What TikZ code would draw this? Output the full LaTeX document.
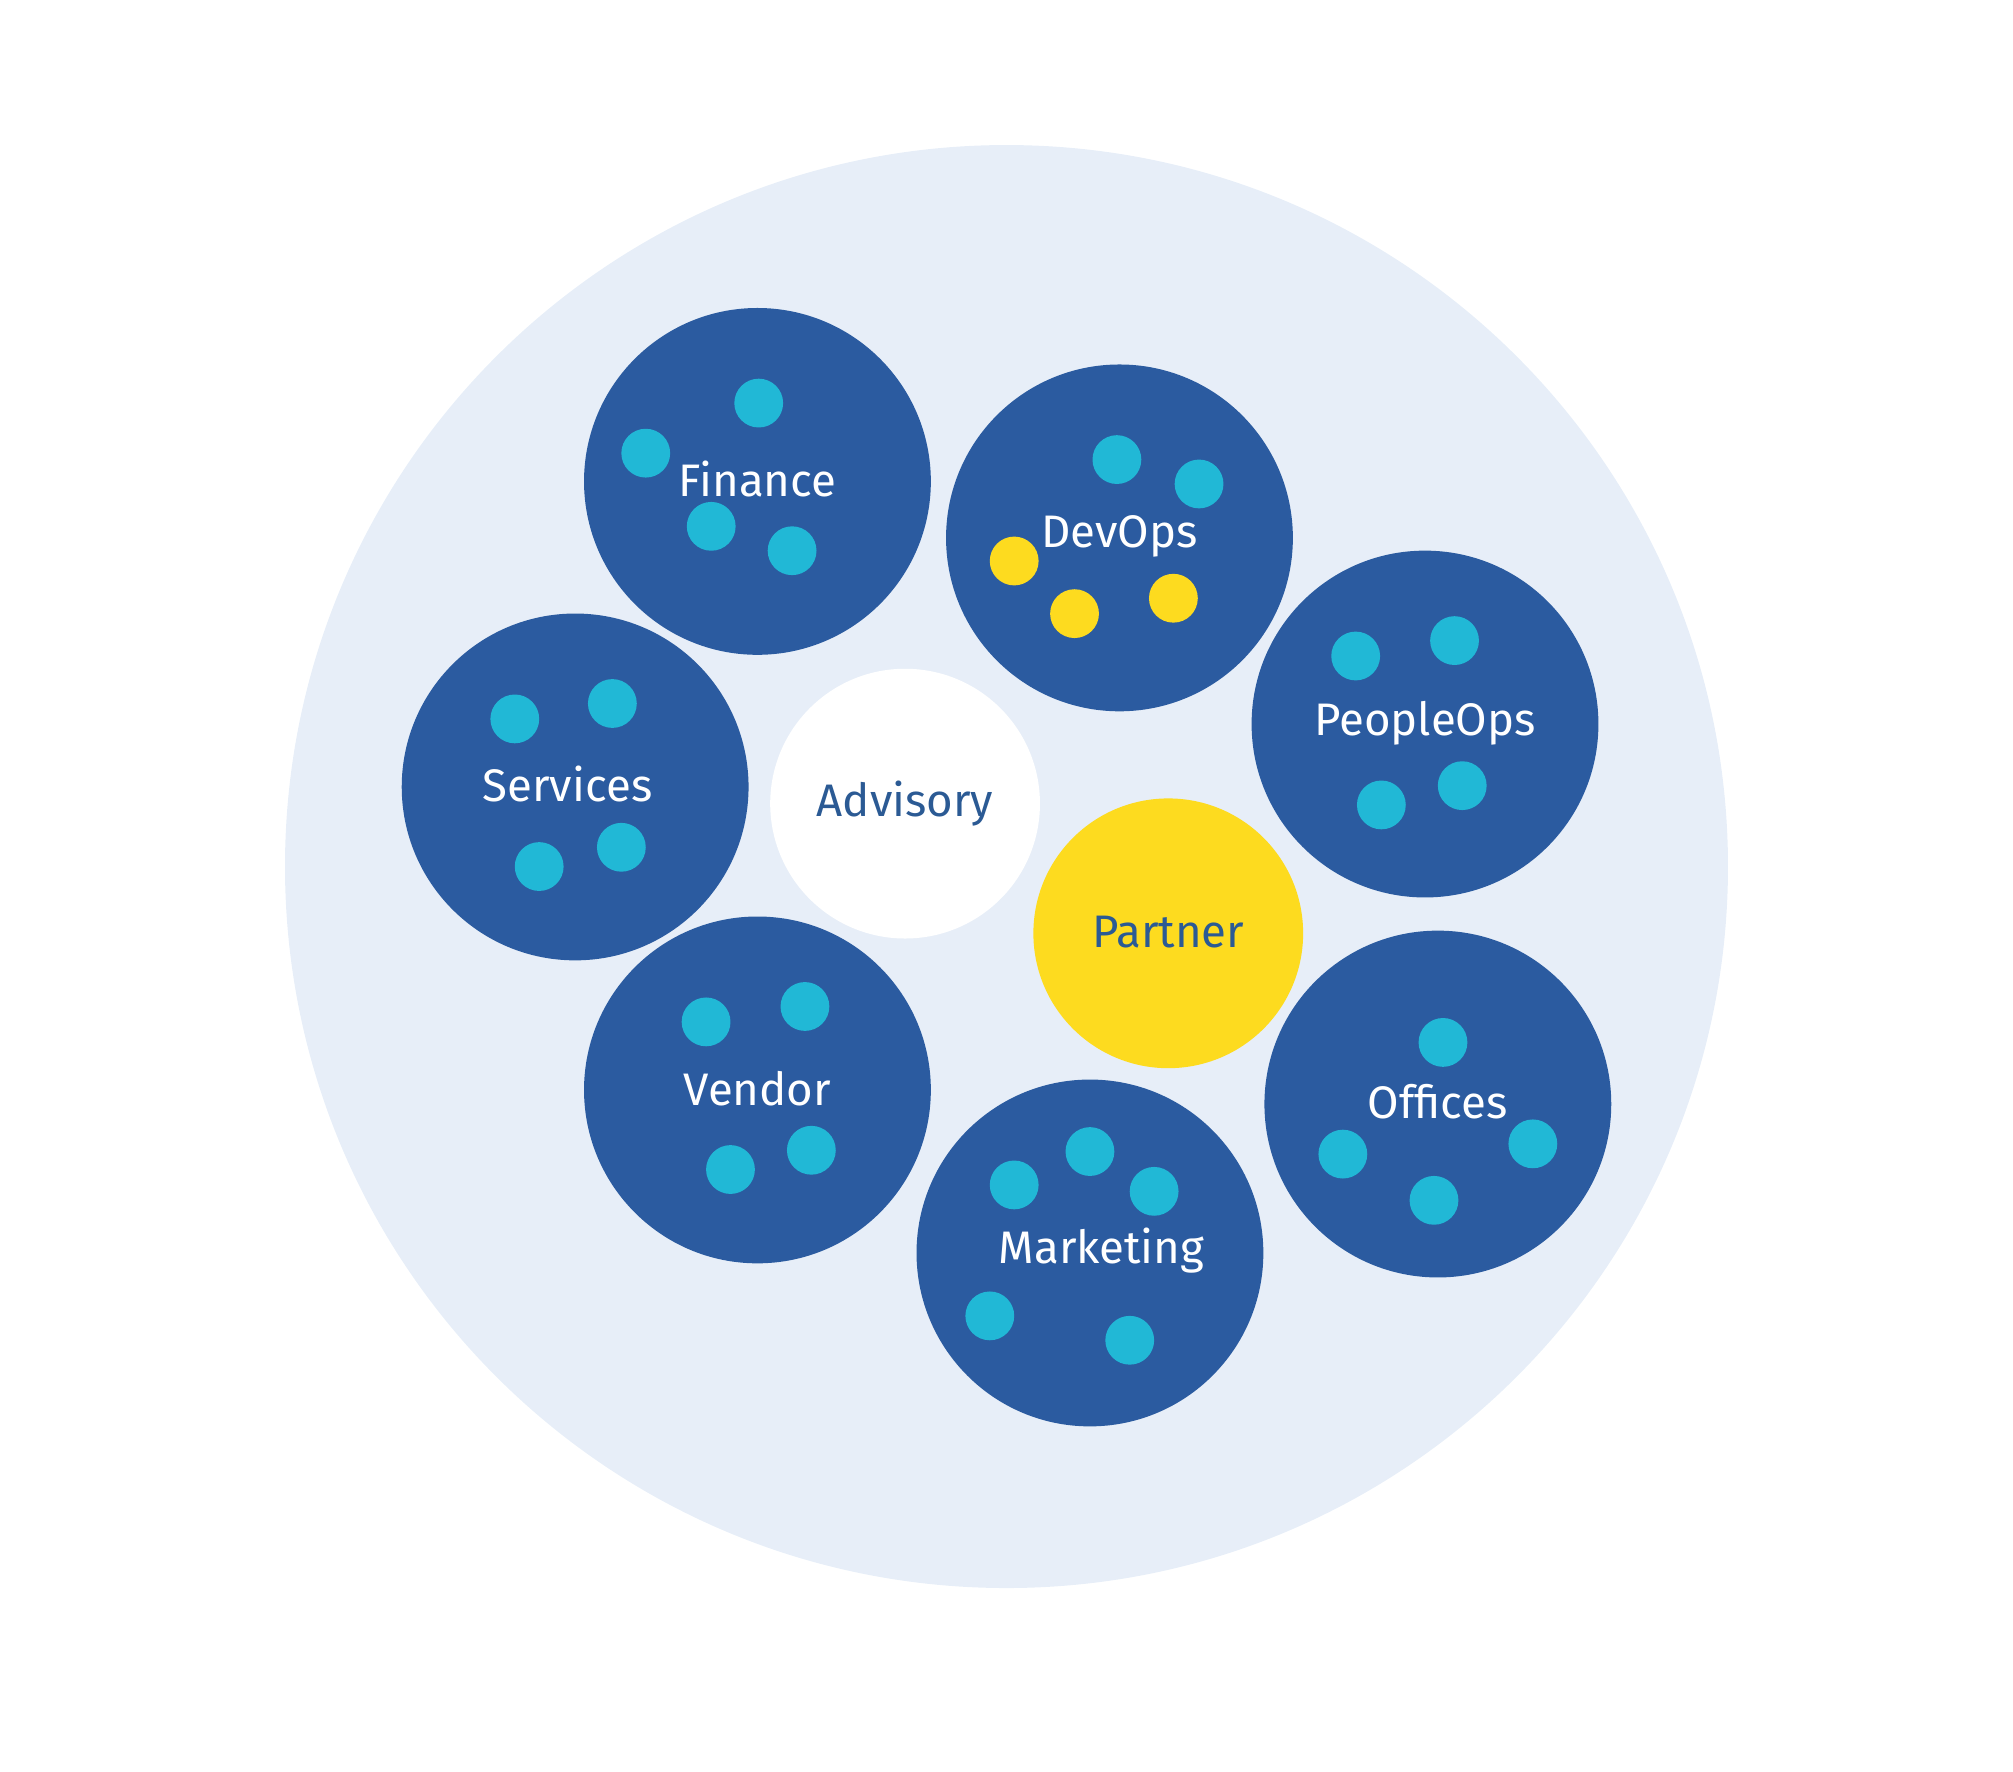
\documentclass[tikz,border=0pt]{standalone}
\usepackage{fontspec}
\setmainfont{Fira Sans}
\usepackage{tikz}
\usetikzlibrary{positioning}
\definecolor{navy}{HTML}{2B5BA0}
\definecolor{cyan}{HTML}{21B8D6}
\definecolor{sun}{HTML}{FDDB1F}
\definecolor{pale}{HTML}{E7EEF8}
\definecolor{ink}{HTML}{2B5A94}
\tikzset{
  team/.style={circle, fill=navy, minimum size=2.7cm, inner sep=0pt},
  core/.style={circle, minimum size=2.1cm, inner sep=0pt},
  dot/.style={circle, fill=cyan, minimum size=0.38cm, inner sep=0pt},
  dotY/.style={dot, fill=sun},
  lbl/.style={text=white, font=\fontsize{10.1}{12}\selectfont},
  lblI/.style={lbl, text=ink},
}

\begin{document}
\begin{tikzpicture}[x=0.01cm, y=-0.01cm]
  \useasboundingbox (0,0) rectangle (1568,1380);
  % the backdrop
  \fill[pale] (784,675) circle (562);
  % the two middle circles
  \node[core, fill=white] (advisory) at (705,626) {};
  \node[core, fill=sun] (partner) at (910,727) {};
  % the teams
  \node[team] (finance) at (590,375) {};
  \node[team] (devops) at (872,419) {};
  \node[team] (peopleops) at (1110,564) {};
  \node[team] (services) at (448,613) {};
  \node[team] (vendor) at (590,849) {};
  \node[team] (offices) at (1120,860) {};
  \node[team] (marketing) at (849,976) {};
  % members
  \foreach \p in {(591,314),(503,353),(554,410),(617,429),
                  (870,358),(934,377),
                  (1056,511),(1133,499),(1076,627),(1139,612),
                  (401,560),(477,548),(420,675),(484,660),
                  (550,796),(627,784),(569,911),(632,896),
                  (1124,812),(1046,899),(1194,891),(1117,935),
                  (790,923),(849,897),(899,928),(771,1025),(880,1044)}
    \node[dot] at \p {};
  \foreach \p in {(790,437),(837,478),(914,466)}
    \node[dotY] at \p {};
  % labels
  \node[lbl] (financeL) at (590,373) {Finance};
  \node[lbl] (devopsL) at (872,418) {DevOps};
  \node[lbl] (peopleopsL) at (1110,563) {PeopleOps};
  \node[lbl] (servicesL) at (442,611) {Services};
  \node[lbl] (vendorL) at (590,848) {Vendor};
  \node[lbl] (officesL) at (1120,858) {Offices};
  \node[lbl] (marketingL) at (858,974) {Marketing};
  \node[lblI] (advisoryL) at (705,626) {Advisory};
  \node[lblI] (partnerL) at (910,726) {Partner};
\end{tikzpicture}
\end{document}
